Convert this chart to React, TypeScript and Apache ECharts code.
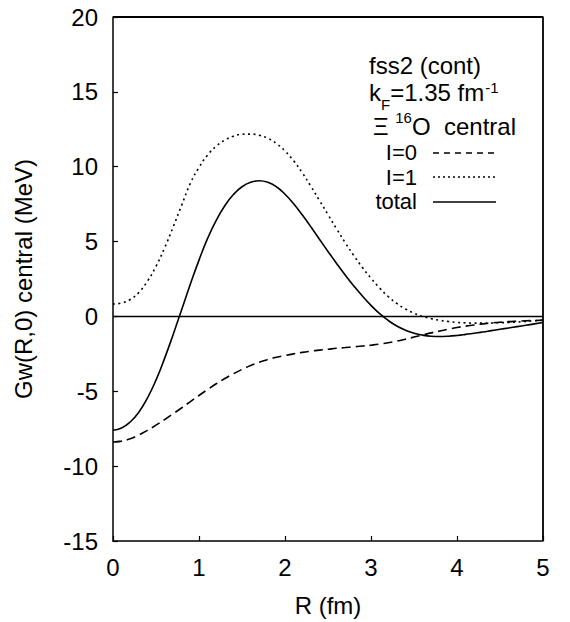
import React, { useEffect, useRef } from "react";
import * as echarts from "echarts";

const R = [
  0.0, 0.1, 0.2, 0.3, 0.4, 0.5, 0.6, 0.7, 0.8, 0.9,
  1.0, 1.1, 1.2, 1.3, 1.4, 1.5, 1.6, 1.7, 1.8, 1.9,
  2.0, 2.1, 2.2, 2.3, 2.4, 2.5, 2.6, 2.7, 2.8, 2.9,
  3.0, 3.1, 3.2, 3.3, 3.4, 3.5, 3.6, 3.7, 3.8, 3.9,
  4.0, 4.1, 4.2, 4.3, 4.4, 4.5, 4.6, 4.7, 4.8, 4.9, 5.0,
];
const I0 = [
  -8.39, -8.33, -8.17, -7.92, -7.61, -7.26, -6.89, -6.5, -6.1, -5.69,
  -5.28, -4.88, -4.5, -4.15, -3.83, -3.54, -3.28, -3.06, -2.88, -2.73,
  -2.61, -2.5, -2.4, -2.32, -2.25, -2.19, -2.13, -2.08, -2.03, -1.98,
  -1.92, -1.85, -1.76, -1.65, -1.52, -1.38, -1.24, -1.1, -0.97, -0.85,
  -0.74, -0.65, -0.57, -0.5, -0.44, -0.39, -0.35, -0.32, -0.29, -0.27, -0.25,
];
const I1 = [
  0.83, 0.9, 1.13, 1.6, 2.35, 3.35, 4.58, 5.98, 7.45, 8.9,
  9.95, 10.78, 11.37, 11.78, 12.04, 12.17, 12.18, 12.1, 11.9, 11.55,
  11.05, 10.4, 9.6, 8.7, 7.75, 6.8, 5.85, 4.93, 4.07, 3.27,
  2.55, 1.9, 1.33, 0.87, 0.5, 0.22, 0.0, -0.15, -0.26, -0.34,
  -0.4, -0.43, -0.45, -0.45, -0.44, -0.42, -0.4, -0.37, -0.33, -0.29, -0.25,
];
const TOTAL = [
  -7.6, -7.45, -7.05, -6.4, -5.45, -4.25, -2.8, -1.2, 0.48, 2.16,
  3.76, 5.21, 6.41, 7.39, 8.14, 8.66, 8.96, 9.06, 8.96, 8.66,
  8.16, 7.53, 6.79, 5.99, 5.16, 4.34, 3.54, 2.77, 2.04, 1.36,
  0.74, 0.19, -0.27, -0.64, -0.92, -1.12, -1.25, -1.32, -1.34, -1.32,
  -1.27, -1.2, -1.12, -1.04, -0.95, -0.86, -0.77, -0.68, -0.59, -0.5, -0.41,
];
const X_TICKS = [0, 1, 2, 3, 4, 5];
const Y_TICKS = [-15, -10, -5, 0, 5, 10, 15, 20];

const FONT_NAME = "Liberation Sans";
const FONT = "'Liberation Sans', Arial, Helvetica, sans-serif";
const FS = 24;
const LFS = 24;
const RFS = 22;
const SFS = 15;

const G_LEFT = 113;
const G_TOP = 17;
const G_W = 430;
const G_H = 525;

function measure(text: string, size: number): number {
  const c = document.createElement("canvas");
  const ctx = c.getContext("2d");
  if (!ctx) return text.length * size * 0.55;
  ctx.font = `${size}px '${FONT_NAME}', Arial, sans-serif`;
  return ctx.measureText(text).width;
}

export default function App() {
  const ref = useRef<HTMLDivElement>(null);
  useEffect(() => {
    if (!ref.current) return;
    const chart = echarts.init(ref.current, undefined, { renderer: "svg" });
    const pair = (ys: number[]) => R.map((r, i) => [r, ys[i]]);
    const mkLine = () => ({ show: true, onZero: false, lineStyle: { color: "#000", width: 1.5 } });
    const mkTick = () => ({ show: true, inside: true, length: 5, lineStyle: { color: "#000", width: 1.2 } });
    const txt = (text: string, x: number, y: number, size = LFS, align = "left") => ({
      type: "text",
      x,
      y,
      style: {
        text, fontSize: size, fontFamily: FONT, fill: "#000",
        textAlign: align, textVerticalAlign: "middle", lineHeight: Math.round(size * 0.8),
      },
    });
    const seg = (y: number, dash: number[] | null) => ({
      type: "line",
      shape: { x1: 433, y1: y, x2: 496, y2: y },
      style: { stroke: "#000", lineWidth: 1.5, lineDash: dash || undefined },
    });

    const x0 = 369;
    const xF = x0 + measure("k", LFS);
    const xEq = xF + measure("F", SFS);
    const xSup = xEq + measure("=1.35 fm", LFS) + 1;
    const xi0 = 373;
    const x16 = xi0 + measure("Ξ ", LFS);
    const xO = x16 + measure("16", SFS);

    const xMin = X_TICKS[0], xMax = X_TICKS[X_TICKS.length - 1];
    const yMin = Y_TICKS[0], yMax = Y_TICKS[Y_TICKS.length - 1];

    chart.setOption({
      animation: false,
      backgroundColor: "#fff",
      grid: { left: G_LEFT, top: G_TOP, width: G_W, height: G_H, containLabel: false },
      xAxis: [
        {
          type: "value", min: xMin, max: xMax, interval: 1,
          name: "R (fm)", nameLocation: "middle", nameGap: 52,
          nameTextStyle: { fontSize: FS, fontFamily: FONT, color: "#000" },
          axisLine: mkLine(), axisTick: mkTick(), splitLine: { show: false },
          axisLabel: { fontSize: FS, fontFamily: FONT, color: "#000", margin: 14 },
        },
      ],
      yAxis: [
        {
          type: "value", min: yMin, max: yMax, interval: 5,
          name: "Gw(R,0) central (MeV)", nameLocation: "middle", nameGap: 78,
          nameTextStyle: { fontSize: FS, fontFamily: FONT, color: "#000" },
          axisLine: mkLine(), axisTick: mkTick(), splitLine: { show: false },
          axisLabel: { fontSize: FS, fontFamily: FONT, color: "#000", margin: 15 },
        },
      ],
      series: [
        {
          name: "frame", type: "line", clip: false, silent: true, showSymbol: false,
          data: [[xMin, yMax], [xMax, yMax], [xMax, yMin]],
          lineStyle: { color: "#000", width: 1.8 },
        },
        {
          name: "zero", type: "line",
          data: [[xMin, 0], [xMax, 0]], showSymbol: false, silent: true,
          lineStyle: { color: "#000", width: 1.5 },
        },
        {
          name: "I=0", type: "line", data: pair(I0), smooth: true, showSymbol: false,
          lineStyle: { color: "#000", width: 1.6, type: [9, 5] },
        },
        {
          name: "I=1", type: "line", data: pair(I1), smooth: true, showSymbol: false,
          lineStyle: { color: "#000", width: 1.6, type: [2, 3.5] },
        },
        {
          name: "total", type: "line", data: pair(TOTAL), smooth: true, showSymbol: false,
          lineStyle: { color: "#000", width: 1.6 },
        },
      ],
      graphic: [
        txt("fss2 (cont)", 369, 65),
        txt("k", x0, 92),
        txt("F", xF, 104, SFS),
        txt("=1.35 fm", xEq, 92),
        txt("-1", xSup, 87, SFS),
        txt("Ξ", xi0, 126),
        txt("16", x16, 117, SFS),
        txt("O  central", xO, 126),
        txt("I=0", 417, 152.5, RFS, "right"),
        txt("I=1", 417, 177, RFS, "right"),
        txt("total", 417, 201.5, RFS, "right"),
        seg(153, [6, 5]),
        seg(177, [2, 3]),
        seg(202, null),
      ],
    });
    return () => chart.dispose();
  }, []);
  return <div ref={ref} style={{ position: "fixed", left: 0, top: 0, width: 570, height: 622 }} />;
}
